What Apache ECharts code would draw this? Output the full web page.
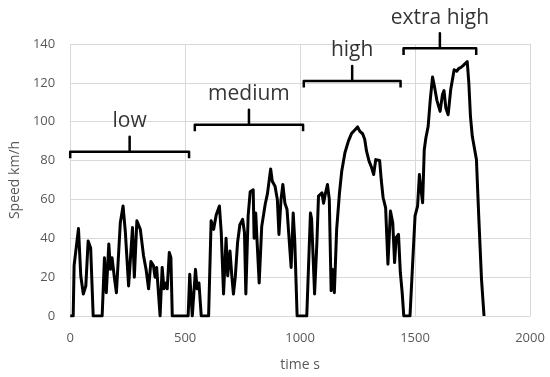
<!DOCTYPE html>
<html>
<head>
<meta charset="utf-8">
<script src="https://cdn.jsdelivr.net/npm/echarts@6/dist/echarts.min.js"></script>
<style>
html,body{margin:0;padding:0;background:#fff;}
#chart{width:550px;height:377px;}
</style>
</head>
<body>
<div id="chart"></div>
<script>
// time (s) and speed (km/h)
var times = [0,13,17,36,46,57,68,78,89,100,139,149,157,168,175,182,193,201,218,230,240,254,271,279,290,305,319,330,341,351,362,369,376,391,400,408,417,422,431,438,444,513,520,531,537,545,552,560,570,602,613,624,635,649,657,667,678,685,695,703,710,718,728,738,750,758,764,774,783,796,800,807,813,822,833,848,858,872,879,891,901,908,917,925,934,943,950,961,970,977,987,1029,1045,1050,1063,1073,1080,1088,1095,1102,1110,1119,1127,1135,1142,1149,1159,1171,1181,1195,1210,1224,1238,1250,1260,1272,1281,1289,1300,1311,1320,1329,1337,1346,1353,1361,1372,1382,1393,1403,1411,1418,1428,1436,1444,1451,1478,1500,1511,1519,1523,1533,1540,1547,1557,1566,1576,1583,1595,1609,1619,1626,1634,1644,1655,1670,1681,1691,1700,1710,1717,1727,1734,1741,1749,1767,1777,1789,1800];
var speeds = [0,0,26,45,20.7,11.3,15.5,38.6,35,0,0,30,12,37,24,30,19,12,48,56.6,43,15.5,45.5,20,49,44.6,31,24,14,28,26,20,25,0,25,14,17,14,32.7,30,0,0,21.5,0,0,24,14,17,0,0,49,44.6,52,56.6,43,11.3,40,20.7,33.5,20.7,11.3,20,37.8,47,49.7,43,11.3,51.5,64,65,40,53,38,17,46,57.4,63,75.7,69.4,66.8,60,42,60,67.7,58,55,56,25,53,38,0,0,53,50,11.3,37.8,61.7,61,63.4,58,63,67.7,60,13,24,12,44.6,63,74.5,84,90,94,95.7,97.3,95,93.8,91,84.8,79.7,76.4,72.8,80.5,81,80,70,61,55.7,26.7,54,48,27.5,40.3,42,22.4,12,0,0,51.5,56.6,72.8,68,58.3,85.6,91.6,97.6,111,123,119,111,105.3,113.8,116,107,103.6,116.4,126.7,126,127.5,128,129,128.5,131,119.8,102.7,92.5,80.5,51.4,19,0];

// phase annotations
var phaseNames = ['low', 'medium', 'high', 'extra high'];
var phaseStart = [0, 542, 1016, 1450];
var phaseEnd = [517, 1013, 1437, 1766];
var phaseLevel = [84.6, 98.5, 121, 137.8];

var xTicks = [0, 500, 1000, 1500, 2000];
var yTicks = [0, 20, 40, 60, 80, 100, 120, 140];

var font = '"Open Sans", "Noto Sans CJK KR", sans-serif';
var curve = times.map(function (t, i) { return [t, speeds[i]]; });

var series = [{
  type: 'line',
  data: curve,
  showSymbol: false,
  symbol: 'none',
  lineStyle: { color: '#000', width: 3, join: 'round' },
  silent: true,
  z: 3
}];

phaseNames.forEach(function (name, i) {
  var a = phaseStart[i], b = phaseEnd[i], lv = phaseLevel[i];
  var mid = (a + b) / 2;
  series.push({
    type: 'line',
    clip: false,
    symbol: 'none',
    silent: true,
    lineStyle: { color: '#000', width: 2.5, join: 'round' },
    data: [[a, lv - 3.4], [a, lv], [mid, lv], [mid, lv + 7.7], [mid, lv], [b, lv], [b, lv - 3.4]],
    z: 4
  });
  series.push({
    type: 'scatter',
    clip: false,
    symbolSize: 0,
    silent: true,
    data: [[mid, lv + 7.7]],
    label: {
      show: true, position: 'top', distance: 5,
      formatter: name, color: '#000', fontSize: 21, fontFamily: font
    },
    z: 5
  });
});

var chart = echarts.init(document.getElementById('chart'), null, { renderer: 'canvas' });
chart.setOption({
  animation: false,
  backgroundColor: '#fff',
  grid: { left: 66, right: 20, top: 44, bottom: 60 },
  xAxis: {
    type: 'value', min: xTicks[0], max: xTicks[xTicks.length - 1], interval: 500,
    name: 'time s', nameLocation: 'middle', nameGap: 42,
    nameTextStyle: { color: '#595959', fontSize: 14, fontFamily: font },
    axisLine: { show: false }, axisTick: { show: false },
    axisLabel: { color: '#595959', fontSize: 13, fontFamily: font, margin: 16,
      formatter: function (v) { return String(v); } },
    splitLine: { show: true, lineStyle: { color: '#d9d9d9', width: 1 } }
  },
  yAxis: {
    type: 'value', min: yTicks[0], max: yTicks[yTicks.length - 1], interval: 20,
    name: 'Speed km/h', nameLocation: 'middle', nameGap: 48,
    nameTextStyle: { color: '#595959', fontSize: 14, fontFamily: font },
    axisLine: { show: false }, axisTick: { show: false },
    axisLabel: { color: '#595959', fontSize: 13, fontFamily: font, margin: 15,
      formatter: function (v) { return String(v); } },
    splitLine: { show: true, lineStyle: { color: '#d9d9d9', width: 1 } }
  },
  series: series
});
</script>
</body>
</html>
